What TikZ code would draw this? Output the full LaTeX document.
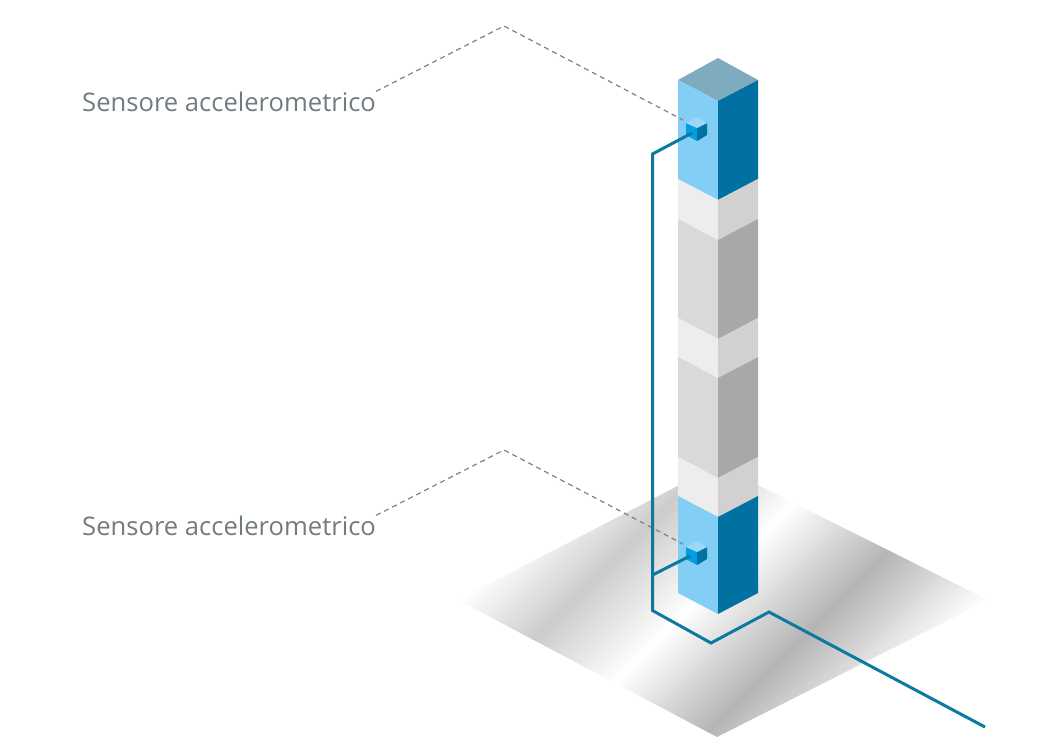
\documentclass[tikz,border=0pt]{standalone}
\usepackage{fontspec}
\setmainfont{Open Sans}
\definecolor{sensorlabel}{HTML}{717B80}
\definecolor{wireblue}{HTML}{0A7A9E}
\definecolor{blueleft}{HTML}{83CEF5}
\definecolor{blueright}{HTML}{0071A0}
\definecolor{bluetop}{HTML}{7FABBE}
\definecolor{cubeleft}{HTML}{009FE3}
\definecolor{cubetop}{HTML}{9BD7F7}
\pgfdeclarehorizontalshading{platefade}{100bp}{color(0bp)=(white); color(37.5bp)=(white); color(42.9bp)=(black!20); color(48.8bp)=(white); color(55.52bp)=(black!29); color(62.5bp)=(white); color(100bp)=(white)}
\begin{document}
\begin{tikzpicture}[
                x=1pt,
                y=-1pt,
                label/.style={
                    anchor=base west,
                    inner sep=0pt,
                    text=sensorlabel,
                    font=\fontsize{25.6}{30}\selectfont
                },
                leader/.style={
                    draw=black!50,
                    line width=1.2pt,
                    dash pattern=on 5pt off 4pt
                },
                wire/.style={
                    draw=wireblue,
                    line width=3pt,
                    line join=miter
                },
                sensor/.pic={
                    \fill[cubeleft] (686,123) -- (697,128) -- (697,141) -- (686,135) -- cycle;
                    \fill[blueright] (697,128) -- (707,123) -- (707,135) -- (697,141) -- cycle;
                    \fill[cubetop] (686,123) -- (697,117) -- (707,123) -- (697,128) -- cycle;
                }
            ]
    
                \useasboundingbox (0,0) rectangle (1051,747);
    
                % floor plate
                \begin{scope}
                    \clip (458,600) -- (718,465) -- (988,600) -- (717,737) -- cycle;
                    \shade[shading=platefade, shading angle=-45] (345.5,227.5) rectangle (1095.5,977.5);
                \end{scope}
    
                % column
                \fill[bluetop] (678,80) -- (718,58) -- (758,80) -- (718,101) -- cycle;
                \foreach \ya/\yb/\cl/\cr in {
                    80/179/blueleft/blueright,
                    179/219/black!7/black!18,
                    219/318/black!15/black!34,
                    318/357/black!7/black!18,
                    357/457/black!15/black!34,
                    457/496/black!7/black!18,
                    496/593/blueleft/blueright}{
                    \fill[\cl] (678,\ya) -- (718,\ya+21) -- (718,\yb+21) -- (678,\yb) -- cycle;
                    \fill[\cr] (758,\ya) -- (718,\ya+21) -- (718,\yb+21) -- (758,\yb) -- cycle;
                }
    
                % sensors
                \pic at (0,0) {sensor};
                \pic at (0,424) {sensor};
    
                \node[label] (labelupper) at (82,111) {Sensore accelerometrico};
                \node[label] (labellower) at (82,535) {Sensore accelerometrico};
    
                \coordinate (bendupper) at (504,26);
                \coordinate (bendlower) at (504,450);
                \coordinate (sensorupper) at (683,120);
                \coordinate (sensorlower) at (683,544);
    
                \draw[leader] (labelupper.north east) -- (bendupper) -- (sensorupper);
                \draw[leader] (labellower.north east) -- (bendlower) -- (sensorlower);
    
                % cable
                \coordinate (wireupper) at (692,133);
                \coordinate (wirelower) at (690,556);
                \coordinate (cornertop) at (652.5,154);
                \coordinate (junction) at (652.5,575);
                \coordinate (cornerbottom) at (652.5,610.5);
                \coordinate (cornerfront) at (711,643);
                \coordinate (cornerback) at (769,612);
                \coordinate (cableend) at (985,727);
    
                \draw[wire] (wireupper) -- (cornertop) -- (cornerbottom) -- (cornerfront) -- (cornerback) -- (cableend);
                \draw[wire] (wirelower) -- (junction);
        \end{tikzpicture}
\end{document}
